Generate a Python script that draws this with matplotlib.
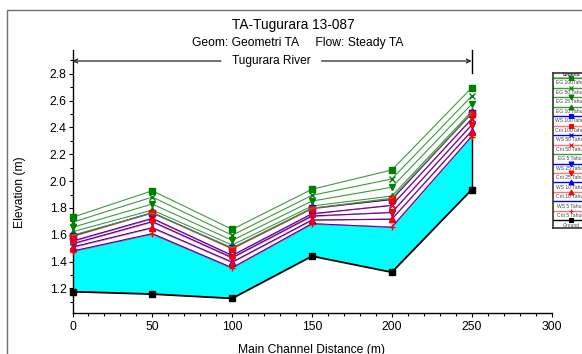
import numpy as np
import matplotlib
matplotlib.use('Agg')
import matplotlib.pyplot as plt
import matplotlib as mt
from matplotlib.patches import Rectangle
from matplotlib.ticker import MultipleLocator, FormatStrFormatter

#%% data
dist = [0, 50, 100, 150, 200, 250]
ground = [1.175, 1.157, 1.125, 1.440, 1.320, 1.936]

eg100 = [1.730, 1.928, 1.640, 1.939, 2.083, 2.696]
eg50 = [1.693, 1.881, 1.596, 1.894, 2.016, 2.634]
eg25 = [1.655, 1.829, 1.558, 1.851, 1.954, 2.574]
eg10 = [1.622, 1.784, 1.523, 1.814, 1.889, 2.520]
eg5 = [1.596, 1.762, 1.502, 1.798, 1.872, 2.506]

ws100 = [1.590, 1.765, 1.498, 1.797, 1.862, 2.506]
ws50 = [1.553, 1.722, 1.446, 1.757, 1.818, 2.464]
ws25 = [1.533, 1.698, 1.429, 1.740, 1.765, 2.419]
ws10 = [1.508, 1.653, 1.396, 1.710, 1.715, 2.374]
ws5 = [1.478, 1.608, 1.354, 1.683, 1.655, 2.334]

crit100 = [1.585, 1.760, 1.493, 1.792, 1.866, 2.502]
crit50 = [1.548, 1.717, 1.441, 1.752, 1.822, 2.460]
crit25 = [1.528, 1.693, 1.424, 1.735, 1.769, 2.415]
crit10 = [1.503, 1.648, 1.391, 1.705, 1.719, 2.370]
crit5 = [1.473, 1.603, 1.349, 1.678, 1.659, 2.330]

river_name = 'Tugurara River'
title = 'TA-Tugurara 13-087'
subtitle = 'Geom: Geometri TA     Flow: Steady TA'

#%% styles, in the order HEC-RAS draws them (same order as the legend)
green_line = '#3f9a3f'
green_mk = '#008000'
crit_line = (1.0, 0.0, 0.0, 0.55)
series = [
    ('EG 100Tahun', eg100, green_line, 's', green_mk),
    ('EG 50 Tahun', eg50, green_line, 'x', green_mk),
    ('EG 25 Tahun', eg25, green_line, 'v', green_mk),
    ('EG 10 Tahun', eg10, green_line, '^', green_mk),
    ('WS 100Tahun', ws100, 'b', 's', 'b'),
    ('Crit 100Tahun', crit100, crit_line, 's', 'r'),
    ('WS 50 Tahun', ws50, 'b', 'x', 'b'),
    ('Crit 50 Tahun', crit50, crit_line, 'x', 'r'),
    ('EG 5 Tahun', eg5, green_line, '', green_mk),
    ('WS 25 Tahun', ws25, 'b', 'v', 'b'),
    ('Crit 25 Tahun', crit25, crit_line, 'v', 'r'),
    ('WS 10 Tahun', ws10, 'b', '^', 'b'),
    ('Crit 10 Tahun', crit10, crit_line, '^', 'r'),
    ('WS 5 Tahun', ws5, 'b', '', 'b'),
    ('Crit 5 Tahun', crit5, crit_line, '+', 'r'),
    ('Ground', ground, 'k', 's', 'k'),
]

#%%
mt.rcParams['font.family'] = 'Liberation Sans'
W, H = 582, 354
fig = plt.figure(figsize=(W/100, H/100), dpi=100)

def fx(px):
    return px/W

def fy(py):
    return 1 - py/H

ax = fig.add_axes([fx(72.5), fy(313), fx(551.5)-fx(72.5), fy(50)-fy(313)])
ax.set_xlim(0, 300)
ax.set_ylim(1.016, 2.978)

# water between ground and lowest water surface
ax.fill_between(dist, ground, ws5, color='#00ffff', lw=0, zorder=1)
ax.vlines(dist[-1], ground[-1], ws5[-1], color='k', lw=1.0, zorder=2)

for name, vals, lc, mk, mc in series:
    lw = 1.3 if name == 'Ground' else 0.8
    ax.plot(dist, vals, color=lc, lw=lw, marker=mk if mk else None,
            ms=4.5 if mk == 's' else 4, mfc=mc, mec=mc, mew=1.0,
            zorder=3, clip_on=False)

# river stationing bar
y_bar = 2.896
ax.annotate('', xy=(0, y_bar), xytext=(93, y_bar),
            arrowprops=dict(arrowstyle='->', color='#222222', lw=0.9,
                            shrinkA=0, shrinkB=0, mutation_scale=7))
ax.annotate('', xy=(250, y_bar), xytext=(156, y_bar),
            arrowprops=dict(arrowstyle='->', color='#222222', lw=0.9,
                            shrinkA=0, shrinkB=0, mutation_scale=7))
ax.plot([250, 250], [2.81, 2.978], color='k', lw=1.0, clip_on=False)
ax.text(124.5, y_bar, river_name, ha='center', va='center', fontsize=8.6)

ax.spines['top'].set_visible(False)
ax.spines['right'].set_visible(False)
ax.spines['left'].set_linewidth(1.0)
ax.spines['bottom'].set_linewidth(1.0)
ax.xaxis.set_major_locator(MultipleLocator(50))
ax.xaxis.set_minor_locator(MultipleLocator(10))
ax.set_yticks(np.arange(1.2, 2.81, 0.2))
ax.yaxis.set_minor_locator(MultipleLocator(0.1))
ax.yaxis.set_major_formatter(FormatStrFormatter('%.1f'))
ax.tick_params(which='major', direction='out', length=3.0, width=0.8,
               labelsize=8.8)
ax.tick_params(which='minor', direction='out', length=2.2, width=0.8)
ax.tick_params(axis='y', pad=1.2)
ax.tick_params(axis='x', pad=3.0)

fig.text(fx(293), fy(29.3), title, ha='center', va='baseline', fontsize=9.8)
fig.text(fx(298), fy(45.7), subtitle, ha='center', va='baseline', fontsize=8.7)
fig.text(fx(20), fy(192), 'Elevation (m)', rotation=90, ha='center',
         va='center', fontsize=8.7)
fig.text(fx(311), fy(344), 'Main Channel Distance (m)', ha='center',
         va='top', fontsize=8.7)

# outer frame of the plot window
fig.add_artist(Rectangle((fx(7), -0.2), 1.5, fy(10)+0.2, transform=fig.transFigure,
                         fill=False, edgecolor='#707070', lw=1.0))

#%% HEC-RAS style legend: sample line above each label
lg_left, lg_top, lg_bot, lg_w = 553, 72.7, 228, 36
lax = fig.add_axes([fx(lg_left), fy(lg_bot), lg_w/W, fy(lg_top)-fy(lg_bot)])
lax.set_xlim(0, 1)
lax.set_ylim(lg_bot - lg_top, 0)
for s in lax.spines.values():
    s.set_linewidth(1.2)
    s.set_color('#333333')
lax.set_xticks([])
lax.set_yticks([])
lax.text(0.5, 2.0, 'Legend', ha='center', va='center', fontsize=3.5,
         color='#333333', fontweight='bold')
lax.axhline(4.0, color='#999999', lw=0.5)
pitch = 9.47
for i, (name, vals, lc, mk, mc) in enumerate(series):
    yl = 5.6 + pitch*i
    lax.plot([0, 1], [yl, yl], color=lc, lw=1.0)
    if mk:
        lax.plot([0.5], [yl], marker=mk, color=mc, ms=3.5, mew=0.8)
    lax.text(0.5, yl + 4.7, name, ha='center', va='center', fontsize=3.6,
             color='#444444', clip_on=True)

fig.savefig('out.png', dpi=100)
